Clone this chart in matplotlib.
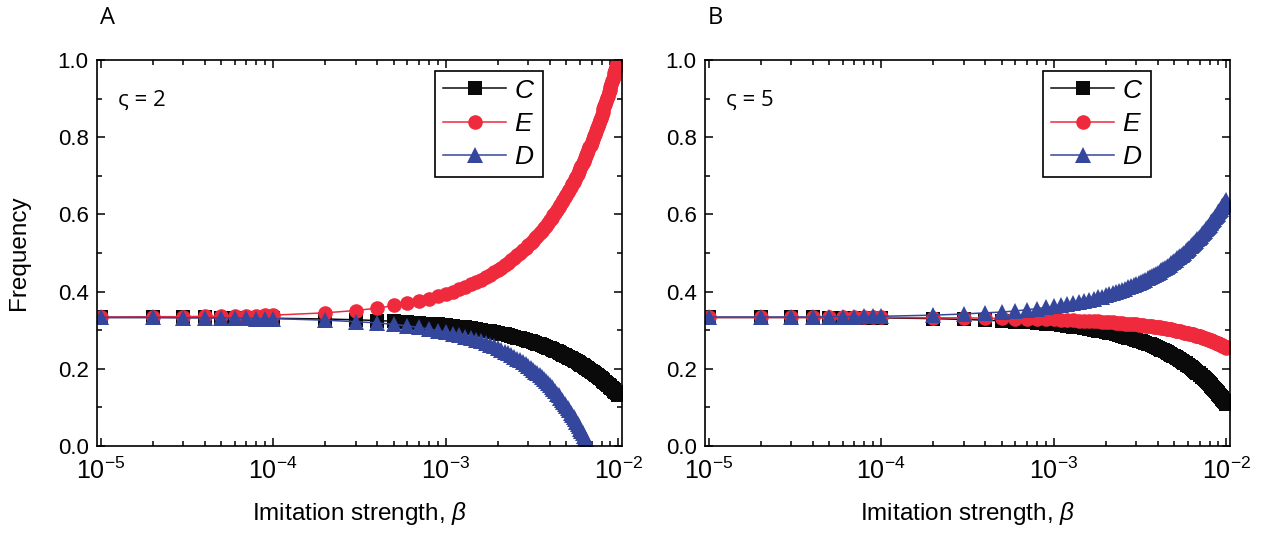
import matplotlib
matplotlib.use("Agg")
import matplotlib.pyplot as plt
from matplotlib.lines import Line2D
from matplotlib import ticker
import numpy as np

plt.rcParams['font.family'] = ['Liberation Sans', 'DejaVu Sans']
plt.rcParams['mathtext.fontset'] = 'custom'
plt.rcParams['mathtext.rm'] = 'Liberation Sans'
plt.rcParams['mathtext.it'] = 'Liberation Sans:italic'

# imitation strength, in units of 1e-5
beta_e5 = [1, 2, 3, 4, 5, 6, 7, 8, 9, 10,
           20, 30, 40, 50, 60, 70, 80, 90, 100,
           110, 120, 130, 140, 150, 160, 170, 180, 190, 200,
           210, 220, 230, 240, 250, 260, 270, 280, 290, 300,
           310, 320, 330, 340, 350, 360, 370, 380, 390, 400,
           410, 420, 430, 440, 450, 460, 470, 480, 490, 500,
           510, 520, 530, 540, 550, 560, 570, 580, 590, 600,
           610, 620, 630, 640, 650, 660, 670, 680, 690, 700,
           710, 720, 730, 740, 750, 760, 770, 780, 790, 800,
           810, 820, 830, 840, 850, 860, 870, 880, 890, 900,
           910, 920, 930, 940, 950, 960, 970, 980, 990, 1000]

# panel A, sigma = 2
C_A = [0.333, 0.333, 0.333, 0.333, 0.332, 0.332, 0.332, 0.332, 0.332, 0.331,
       0.329, 0.327, 0.325, 0.323, 0.321, 0.319, 0.317, 0.315, 0.313,
       0.311, 0.309, 0.307, 0.305, 0.303, 0.301, 0.299, 0.297, 0.295, 0.293,
       0.291, 0.289, 0.287, 0.285, 0.283, 0.281, 0.279, 0.277, 0.275, 0.273,
       0.271, 0.269, 0.267, 0.265, 0.263, 0.261, 0.259, 0.257, 0.255, 0.253,
       0.251, 0.249, 0.247, 0.245, 0.243, 0.241, 0.239, 0.237, 0.235, 0.233,
       0.231, 0.229, 0.227, 0.225, 0.223, 0.221, 0.219, 0.217, 0.215, 0.213,
       0.211, 0.209, 0.207, 0.205, 0.203, 0.201, 0.199, 0.197, 0.195, 0.193,
       0.191, 0.189, 0.187, 0.185, 0.183, 0.181, 0.179, 0.177, 0.175, 0.173,
       0.171, 0.169, 0.167, 0.165, 0.163, 0.161, 0.159, 0.157, 0.155, 0.153,
       0.151, 0.149, 0.147, 0.145, 0.143, 0.141, 0.139, 0.137, 0.135, 0.133]
E_A = [0.334, 0.335, 0.335, 0.336, 0.336, 0.337, 0.338, 0.338, 0.339, 0.339,
       0.345, 0.351, 0.357, 0.364, 0.370, 0.376, 0.382, 0.388, 0.394,
       0.400, 0.406, 0.412, 0.419, 0.425, 0.431, 0.437, 0.444, 0.450, 0.456,
       0.462, 0.469, 0.475, 0.481, 0.488, 0.494, 0.500, 0.507, 0.513, 0.520,
       0.526, 0.532, 0.539, 0.545, 0.552, 0.558, 0.565, 0.571, 0.578, 0.585,
       0.591, 0.598, 0.604, 0.611, 0.618, 0.624, 0.631, 0.637, 0.644, 0.651,
       0.658, 0.664, 0.671, 0.678, 0.685, 0.691, 0.698, 0.705, 0.712, 0.719,
       0.725, 0.732, 0.739, 0.746, 0.753, 0.760, 0.767, 0.774, 0.781, 0.788,
       0.795, 0.802, 0.809, 0.816, 0.823, 0.830, 0.837, 0.844, 0.851, 0.858,
       0.865, 0.872, 0.880, 0.887, 0.894, 0.901, 0.908, 0.916, 0.923, 0.930,
       0.937, 0.945, 0.952, 0.959, 0.967, 0.974, 0.981, 0.989, 0.996, 1.003]
D_A = [0.333, 0.333, 0.332, 0.332, 0.332, 0.331, 0.331, 0.330, 0.330, 0.330,
       0.326, 0.322, 0.319, 0.315, 0.311, 0.307, 0.303, 0.299, 0.295,
       0.291, 0.287, 0.283, 0.279, 0.275, 0.271, 0.266, 0.262, 0.258, 0.253,
       0.249, 0.244, 0.240, 0.235, 0.231, 0.226, 0.222, 0.217, 0.212, 0.207,
       0.202, 0.198, 0.193, 0.188, 0.183, 0.178, 0.173, 0.168, 0.162, 0.157,
       0.152, 0.147, 0.142, 0.136, 0.131, 0.125, 0.120, 0.114, 0.109, 0.103,
       0.098, 0.092, 0.086, 0.081, 0.075, 0.069, 0.063, 0.057, 0.051, 0.045,
       0.039, 0.033, 0.027, 0.021, 0.015, 0.009, 0.002, -0.004, -0.010, -0.017,
       -0.023, -0.030]

# panel B, sigma = 5
C_B = [0.333, 0.333, 0.333, 0.333, 0.332, 0.332, 0.332, 0.332, 0.332, 0.332,
       0.330, 0.328, 0.326, 0.324, 0.322, 0.321, 0.319, 0.317, 0.315,
       0.313, 0.311, 0.309, 0.307, 0.305, 0.303, 0.301, 0.299, 0.297, 0.296,
       0.294, 0.292, 0.290, 0.288, 0.285, 0.283, 0.281, 0.279, 0.277, 0.275,
       0.273, 0.271, 0.269, 0.267, 0.265, 0.263, 0.261, 0.258, 0.256, 0.254,
       0.252, 0.250, 0.248, 0.245, 0.243, 0.241, 0.239, 0.237, 0.234, 0.232,
       0.230, 0.228, 0.225, 0.223, 0.221, 0.218, 0.216, 0.214, 0.211, 0.209,
       0.207, 0.204, 0.202, 0.200, 0.197, 0.195, 0.192, 0.190, 0.188, 0.185,
       0.183, 0.180, 0.178, 0.175, 0.173, 0.171, 0.168, 0.166, 0.163, 0.160,
       0.158, 0.155, 0.153, 0.150, 0.148, 0.145, 0.143, 0.140, 0.137, 0.135,
       0.132, 0.130, 0.127, 0.124, 0.122, 0.119, 0.116, 0.114, 0.111, 0.108]
E_B = [0.333, 0.333, 0.333, 0.333, 0.333, 0.333, 0.333, 0.333, 0.333, 0.333,
       0.332, 0.332, 0.331, 0.331, 0.330, 0.329, 0.329, 0.328, 0.328,
       0.327, 0.326, 0.326, 0.325, 0.325, 0.324, 0.323, 0.323, 0.322, 0.321,
       0.321, 0.320, 0.319, 0.319, 0.318, 0.317, 0.317, 0.316, 0.315, 0.315,
       0.314, 0.313, 0.313, 0.312, 0.311, 0.311, 0.310, 0.309, 0.308, 0.308,
       0.307, 0.306, 0.305, 0.305, 0.304, 0.303, 0.302, 0.302, 0.301, 0.300,
       0.299, 0.298, 0.298, 0.297, 0.296, 0.295, 0.294, 0.294, 0.293, 0.292,
       0.291, 0.290, 0.290, 0.289, 0.288, 0.287, 0.286, 0.285, 0.284, 0.284,
       0.283, 0.282, 0.281, 0.280, 0.279, 0.278, 0.277, 0.276, 0.275, 0.275,
       0.274, 0.273, 0.272, 0.271, 0.270, 0.269, 0.268, 0.267, 0.266, 0.265,
       0.264, 0.263, 0.262, 0.261, 0.260, 0.259, 0.258, 0.257, 0.256, 0.255]
D_B = [0.334, 0.334, 0.334, 0.334, 0.335, 0.335, 0.335, 0.336, 0.336, 0.336,
       0.339, 0.342, 0.345, 0.347, 0.350, 0.353, 0.356, 0.359, 0.362,
       0.364, 0.367, 0.370, 0.373, 0.376, 0.379, 0.382, 0.385, 0.387, 0.390,
       0.393, 0.396, 0.399, 0.402, 0.405, 0.408, 0.411, 0.414, 0.417, 0.420,
       0.423, 0.425, 0.428, 0.431, 0.434, 0.437, 0.440, 0.443, 0.446, 0.449,
       0.452, 0.455, 0.458, 0.461, 0.464, 0.467, 0.470, 0.473, 0.476, 0.480,
       0.483, 0.486, 0.489, 0.492, 0.495, 0.498, 0.501, 0.504, 0.507, 0.510,
       0.513, 0.517, 0.520, 0.523, 0.526, 0.529, 0.532, 0.535, 0.538, 0.542,
       0.545, 0.548, 0.551, 0.554, 0.557, 0.561, 0.564, 0.567, 0.570, 0.573,
       0.577, 0.580, 0.583, 0.586, 0.589, 0.593, 0.596, 0.599, 0.602, 0.606,
       0.609, 0.612, 0.615, 0.619, 0.622, 0.625, 0.628, 0.632, 0.635, 0.638]

panels = [("A", "ς = 2", C_A, E_A, D_A), ("B", "ς = 5", C_B, E_B, D_B)]
colors = ["#0a0a0a", "#ee2a3c", "#34479c"]
markers = ["s", "o", "^"]
msizes = [9.5, 10.5, 11]

beta = np.array(beta_e5) * 1e-5


def powLabel(x, pos):
    e = int(round(np.log10(x)))
    return r"10$^{\mathregular{%d}}$" % e


def plotPanel(ax, letter, note, series):
    for ys, c, m, ms in zip(series, colors, markers, msizes):
        ax.plot(beta[:len(ys)], ys, color=c, lw=1.1, marker=m, ms=ms,
                mec=c, mew=0)
    ax.set_xscale("log")
    ax.set_xlim(1e-5 / 1.05, 1e-2 * 1.05)
    ax.set_ylim(0, 1)
    ax.xaxis.set_major_locator(ticker.LogLocator(base=10, numticks=10))
    ax.xaxis.set_major_formatter(ticker.FuncFormatter(powLabel))
    ax.xaxis.set_minor_locator(ticker.LogLocator(base=10, subs=np.arange(2, 10), numticks=20))
    ax.xaxis.set_minor_formatter(ticker.NullFormatter())
    ax.yaxis.set_major_locator(ticker.MultipleLocator(0.2))
    ax.yaxis.set_minor_locator(ticker.MultipleLocator(0.1))
    ax.yaxis.set_major_formatter(ticker.FormatStrFormatter("%.1f"))
    ax.tick_params(which="both", direction="in", top=True, right=True,
                   width=1.1, labelsize=16)
    ax.tick_params(which="major", length=6, pad=6)
    ax.tick_params(which="minor", length=3.5)
    ax.tick_params(axis="x", which="major", labelsize=18, pad=8)
    for sp in ax.spines.values():
        sp.set_linewidth(1.2)
    ax.set_xlabel(r"Imitation strength, $\beta$", fontsize=17.5, labelpad=12)
    ax.text(0.04, 0.895, note, transform=ax.transAxes, fontsize=16,
            family=["Open Sans", "DejaVu Sans"], va="center")
    ax.text(0.005, 1.11, letter, transform=ax.transAxes, fontsize=17,
            family=["Open Sans", "DejaVu Sans"], va="center")
    handles = [Line2D([], [], color=c, lw=1.1, marker=m, ms=ms, mew=0)
               for c, m, ms in zip(colors, markers, msizes)]
    leg = ax.legend(handles, ["$C$", "$E$", "$D$"], loc="upper right",
                    bbox_to_anchor=(0.85, 0.972), borderaxespad=0,
                    fontsize=19, handlelength=2.4, handletextpad=0.3,
                    labelspacing=0.35, borderpad=0.3, fancybox=False,
                    framealpha=1, edgecolor="black")
    leg.get_frame().set_linewidth(1.2)


fig = plt.figure(figsize=(12.66, 5.37), dpi=100)
axA = fig.add_axes([97 / 1266, 1 - 446 / 537, 525 / 1266, 386 / 537])
axB = fig.add_axes([705 / 1266, 1 - 446 / 537, 525 / 1266, 386 / 537])
for ax, (letter, note, c, e, d) in zip([axA, axB], panels):
    plotPanel(ax, letter, note, [c, e, d])
axA.set_ylabel("Frequency", fontsize=17.5, labelpad=20)

fig.savefig("out.png", dpi=100)
